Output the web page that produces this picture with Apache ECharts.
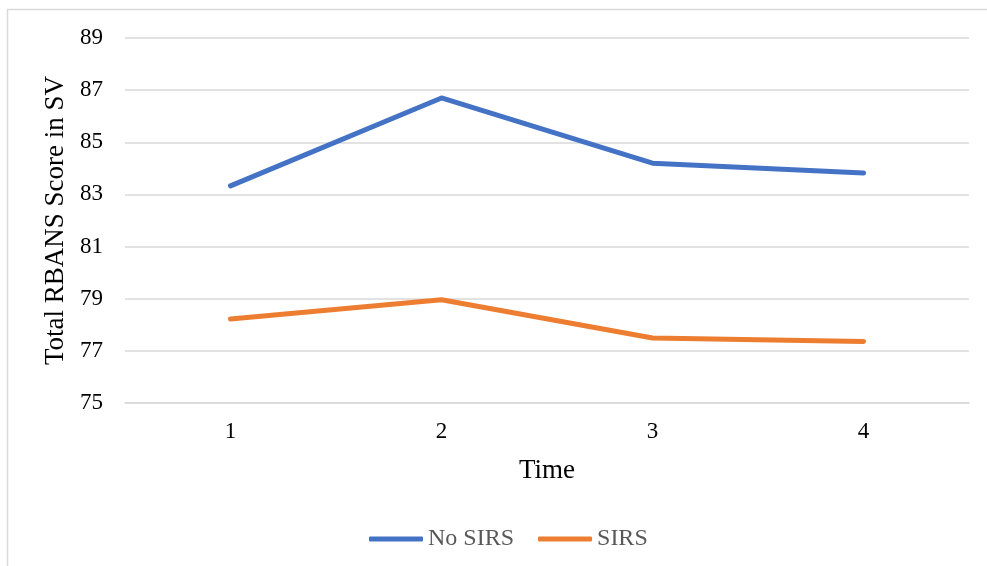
<!DOCTYPE html>
<html>
<head>
<meta charset="utf-8">
<script src="https://cdn.jsdelivr.net/npm/echarts@6/dist/echarts.min.js"></script>
<style>
  html, body { margin: 0; padding: 0; background: #fff; }
  #chart { width: 987px; height: 566px; }
</style>
</head>
<body>
<div id="chart"></div>
<script>
// Time points and mean total RBANS scores per group
const timePoints = ['1', '2', '3', '4'];
const noSirs = [83.33, 86.70, 84.20, 83.82];
const sirs = [78.22, 78.96, 77.49, 77.36];
const seriesNames = ['No SIRS', 'SIRS'];
const seriesColors = ['#4472C4', '#ED7D31'];

const serif = '"Liberation Serif", "Times New Roman", serif';

const chart = echarts.init(document.getElementById('chart'), null, { renderer: 'canvas' });

chart.setOption({
  backgroundColor: '#ffffff',
  animation: false,
  graphic: [{
    type: 'rect',
    shape: { x: 7.5, y: 9.5, width: 1000, height: 600 },
    style: { fill: 'none', stroke: '#D9D9D9', lineWidth: 1.5 },
    silent: true
  }],
  grid: { left: 125, right: 18, top: 38, bottom: 163 },
  legend: {
    bottom: 10,
    left: 364,
    icon: 'roundRect',
    itemWidth: 54,
    itemHeight: 5,
    itemGap: 24,
    textStyle: { fontFamily: serif, fontSize: 24, color: '#595959' },
    data: seriesNames
  },
  xAxis: {
    type: 'category',
    data: timePoints,
    boundaryGap: true,
    name: 'Time',
    nameLocation: 'middle',
    nameGap: 54,
    nameTextStyle: { fontFamily: serif, fontSize: 27, color: '#000' },
    axisLine: { show: true, lineStyle: { color: '#D9D9D9', width: 1.5 } },
    axisTick: { show: false },
    axisLabel: { fontFamily: serif, fontSize: 23, color: '#000', margin: 17 }
  },
  yAxis: {
    type: 'value',
    min: 75,
    max: 89,
    interval: 2,
    name: 'Total RBANS Score in SV',
    nameLocation: 'middle',
    nameGap: 50,
    nameRotate: 90,
    nameTextStyle: { fontFamily: serif, fontSize: 27, color: '#000' },
    axisLine: { show: false },
    axisTick: { show: false },
    axisLabel: { fontFamily: serif, fontSize: 23, color: '#000', margin: 22 },
    splitLine: { show: true, lineStyle: { color: '#D9D9D9', width: 1.5 } }
  },
  series: [
    {
      name: seriesNames[0],
      type: 'line',
      data: noSirs,
      symbol: 'none',
      color: seriesColors[0],
      lineStyle: { width: 5, color: seriesColors[0], cap: 'round', join: 'round' }
    },
    {
      name: seriesNames[1],
      type: 'line',
      data: sirs,
      symbol: 'none',
      color: seriesColors[1],
      lineStyle: { width: 5, color: seriesColors[1], cap: 'round', join: 'round' }
    }
  ]
});
</script>
</body>
</html>
